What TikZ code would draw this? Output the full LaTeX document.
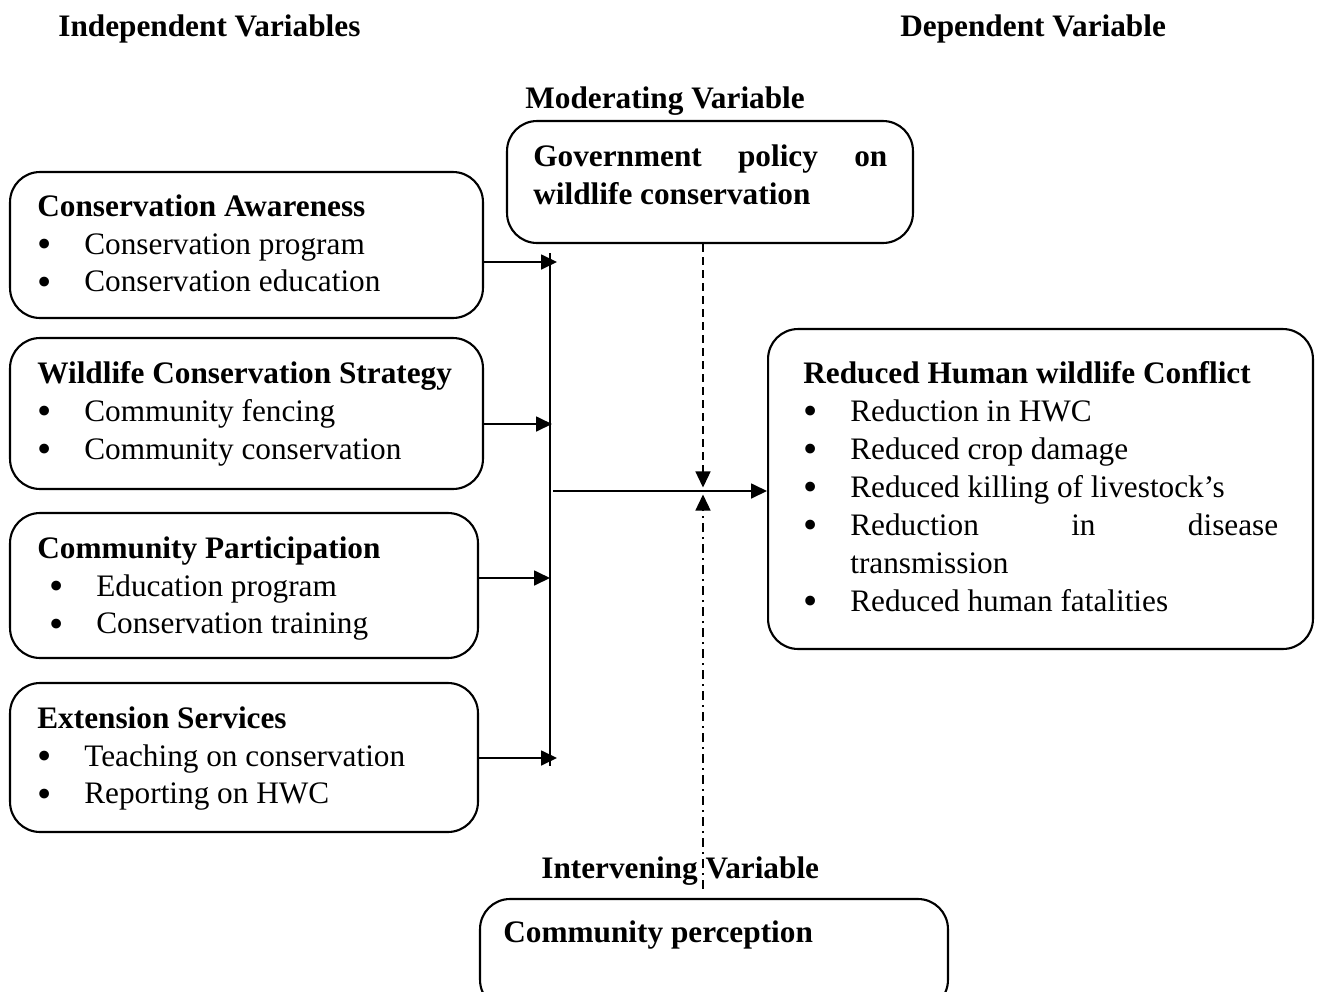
\documentclass[tikz,border=0pt]{standalone}
\usepackage{fontspec}
\usepackage{graphicx}
\setmainfont{Liberation Serif}
\usetikzlibrary{arrows.meta,positioning}
\newcommand{\bul}[1][0cm]{\hspace*{#1}\makebox[0.94cm][l]{\raisebox{-0.1em}{\scalebox{1.3}{\textbullet}}}}

\begin{document}
\begin{tikzpicture}[x=0.02cm,y=-0.02cm,
        every node/.style={font=\fontsize{17.8}{21.6}\selectfont},
        varbox/.style={draw,rounded corners=0.6cm,line width=1.2pt},
        boxtext/.style={anchor=north west,inner sep=0pt,align=left},
        heading/.style={anchor=base west,inner sep=0pt,font=\fontsize{17.8}{21.6}\selectfont\bfseries},
        arr/.style={-{Triangle[length=0.32cm,width=0.3cm]},line width=1pt}]
        \useasboundingbox (0,0) rectangle (1319,991);
        \clip (0,0) rectangle (1319,991);

        % headings
        \node[heading] (indep) at (58,36) {Independent Variables};
        \node[heading] (dep) at (900,36) {Dependent Variable};
        \node[heading] (modlab) at (525,108) {Moderating Variable};
        \node[heading] (intlab) at (541,878) {Intervening Variable};

        % boxes
        \begin{scope}[every node/.style={varbox}]
            \node[minimum width=9.46cm,minimum height=2.92cm] (aware) at (246.5,245) {};
            \node[minimum width=9.46cm,minimum height=3.02cm] (strat) at (246.5,413.5) {};
            \node[minimum width=9.36cm,minimum height=2.9cm] (partic) at (244,585.5) {};
            \node[minimum width=9.36cm,minimum height=2.98cm] (ext) at (244,757.5) {};
            \node[minimum width=8.12cm,minimum height=2.44cm] (policy) at (710,182) {};
            \node[minimum width=10.9cm,minimum height=6.4cm] (hwc) at (1040.5,489) {};
            \node[minimum width=9.36cm,minimum height=2.22cm] (percep) at (714,954.5) {};
        \end{scope}

        % box texts
        \node[boxtext] (awaretxt) at (37,194) {\textbf{Conservation Awareness}\\
            \bul Conservation program\\
            \bul Conservation education};
        \node[boxtext] (strattxt) at (37,361) {\textbf{Wildlife Conservation Strategy}\\
            \bul Community fencing\\
            \bul Community conservation};
        \node[boxtext] (partictxt) at (37,536) {\textbf{Community Participation}\\
            \bul[0.24cm]Education program\\
            \bul[0.24cm]Conservation training};
        \node[boxtext] (exttxt) at (37,706) {\textbf{Extension Services}\\
            \bul Teaching on conservation\\
            \bul Reporting on HWC};
        \node[boxtext] (policytxt) at (533,144) {\textbf{\makebox[7.08cm][s]{Government policy on}}\\
            \textbf{wildlife conservation}};
        \node[boxtext] (hwctxt) at (803,361) {\textbf{Reduced Human wildlife Conflict}\\
            \bul Reduction in HWC\\
            \bul Reduced crop damage\\
            \bul Reduced killing of livestock’s\\
            \bul \makebox[8.56cm][s]{Reduction in disease}\\
            \hspace*{0.94cm}transmission\\
            \bul Reduced human fatalities};
        \node[boxtext] (perceptxt) at (503,920) {\textbf{Community perception}};

        % connectors
        \coordinate (bartop) at (550,253);
        \coordinate (barbot) at (550,766);
        \coordinate (tipA) at (557,262);
        \coordinate (tipB) at (552,424);
        \coordinate (tipC) at (550,578);
        \coordinate (tipD) at (557,758);
        \coordinate (barmid) at (553,491);
        \coordinate (jn) at (703,491);

        \draw[line width=1pt] (bartop) -- (barbot);
        \draw[arr] (aware.east |- tipA) -- (tipA);
        \draw[arr] (strat.east |- tipB) -- (tipB);
        \draw[arr] (partic.east |- tipC) -- (tipC);
        \draw[arr] (ext.east |- tipD) -- (tipD);
        \draw[arr] (barmid) -- (hwc.west |- barmid);
        \draw[arr,line width=0.8pt,dash pattern=on 0.16cm off 0.1cm,shorten >=2pt]
            (policy.south -| jn) -- (jn);
        \draw[arr,line width=0.8pt,dash pattern=on 0.18cm off 0.1cm on 0.04cm off 0.1cm,
            shorten >=2pt,shorten <=0.18cm] (percep.north -| jn) -- (jn);
    \end{tikzpicture}
\end{document}
